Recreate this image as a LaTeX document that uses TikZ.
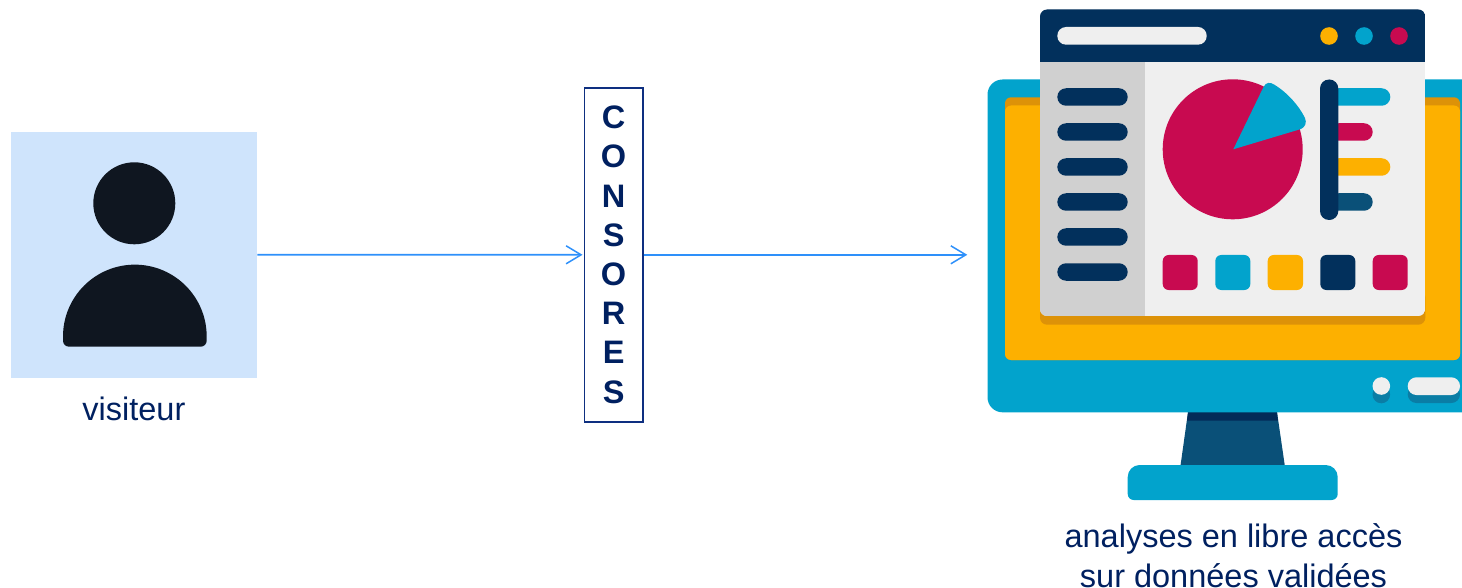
\documentclass[tikz,border=0pt]{standalone}
\usepackage{fontspec}
\setmainfont{Liberation Sans}
\usetikzlibrary{arrows.meta}
\definecolor{navy}{HTML}{02305C}
\definecolor{tealc}{HTML}{02A3CC}
\definecolor{amber}{HTML}{FDB000}
\definecolor{crimson}{HTML}{C80A50}
\definecolor{lightg}{HTML}{EFEFEF}
\definecolor{sideg}{HTML}{D0D0D0}
\definecolor{darkamber}{HTML}{DD9208}
\definecolor{deepblue}{HTML}{0A5078}
\definecolor{darkband}{HTML}{032A58}
\definecolor{tealshadow}{HTML}{0A7DA5}
\definecolor{textblue}{HTML}{002060}
\definecolor{boxblue}{HTML}{0E2F80}
\definecolor{arrowblue}{HTML}{2E90FA}
\definecolor{paleblue}{HTML}{CFE4FC}
\definecolor{inkblack}{HTML}{0F1620}
\newcommand{\pillshape}[5]{\fill[#1,rounded corners=8.7pt] (#2,#3) rectangle (#4,#5);}
\newcommand{\squareshape}[3]{\fill[#1,rounded corners=6pt] (#2,255) rectangle (#3,290);}
\tikzset{
  x=1pt,y=-1pt,
  caption/.style={text=textblue,font=\fontsize{32.5}{38.3}\selectfont,inner sep=0pt,outer sep=0pt,align=center},
  visitorbox/.style={fill=paleblue,minimum width=246.3pt,minimum height=245.7pt,inner sep=0pt,outer sep=0pt},
  acronymbox/.style={draw=boxblue,line width=1.7pt,fill=white,minimum width=58.4pt,minimum height=334pt,inner sep=0pt,outer sep=0.85pt,text=textblue,align=center,font=\fontsize{32.5}{39.2}\selectfont\bfseries},
  flow/.style={draw=arrowblue,line width=1.7pt,-{Straight Barb[length=15pt,width=18pt,line width=1.5pt]}}
}
\begin{document}
\begin{tikzpicture}
\useasboundingbox (0,0) rectangle (1462,588);
% visitor
\node[visitorbox] (visitor) at (134.15,254.85) {};
\fill[inkblack] (134.3,203.3) circle[radius=41pt];
\fill[inkblack] (63,340.7) -- (63,336.5) arc (180:0:71.85pt) -- (206.7,340.7) arc (0:-90:6pt) -- (69,346.7) arc (270:180:6pt) -- cycle;
\node[caption,anchor=base] (visitorlabel) at (133.9,420.3) {visiteur};
% consores
\node[acronymbox] (consores) at (613.6,254.8) {C\\O\\N\\S\\O\\R\\E\\S};
% monitor
\fill[deepblue] (1188.3,410) -- (1276.7,410) -- (1285,467) -- (1180.3,467) -- cycle;
\fill[darkband] (1188.3,410) -- (1276.7,410) -- (1277.9,420.7) -- (1187,420.7) -- cycle;
\fill[tealc] (1127.7,494) -- (1127.7,477) arc (180:90:12pt) -- (1325.7,465) arc (90:0:12pt) -- (1337.7,494) arc (0:-90:6pt) -- (1133.7,500) arc (270:180:6pt) -- cycle;
\fill[tealc] (1462,79.5) [rounded corners=15pt] -- (987.5,79.5) -- (987.5,412.3) [sharp corners] -- (1462,412.3) -- cycle;
\fill[darkamber,rounded corners=6pt] (1005,97.3) rectangle (1460,360);
\fill[amber,rounded corners=6pt] (1005,105.5) rectangle (1460,360);
\fill[tealshadow] (1381.3,394.5) circle[radius=8.8pt];
\pillshape{tealshadow}{1407.7}{385.5}{1460}{403}
\fill[lightg] (1381.3,386) circle[radius=8.8pt];
\pillshape{lightg}{1407.7}{377.3}{1460}{395}
% window
\fill[darkamber,rounded corners=7pt] (1040,290) rectangle (1425.3,324.7);
\begin{scope}
\clip[rounded corners=7pt] (1040,9.5) rectangle (1425.3,316);
\fill[lightg] (1040,9.5) rectangle (1425.3,316);
\fill[sideg] (1040,62.3) rectangle (1145,316);
\fill[navy] (1040,9.5) rectangle (1425.3,62.3);
\end{scope}
\pillshape{lightg}{1057.3}{27}{1206.7}{44.7}
\fill[amber] (1329,36) circle[radius=8.8pt];
\fill[tealc] (1364,36) circle[radius=8.8pt];
\fill[crimson] (1399,36) circle[radius=8.8pt];
\foreach \rowy in {97,132,167,202,237,272}{
  \pillshape{navy}{1057.3}{\rowy-8.75}{1127.7}{\rowy+8.75}
}
\fill[crimson] (1232.7,149.3) circle[radius=70pt];
\fill[tealc] (1233.3,149.3) -- (1263.5,87) .. controls (1266,82) and (1270,82) .. (1274,84.5) .. controls (1288,93) and (1299,106) .. (1305,118) .. controls (1307,123) and (1305,127) .. (1301,129) -- cycle;
\pillshape{tealc}{1330}{88.25}{1390.3}{105.75}
\pillshape{crimson}{1330}{123.25}{1372.7}{140.75}
\pillshape{amber}{1330}{158.25}{1390.3}{175.75}
\pillshape{deepblue}{1330}{193.25}{1372.7}{210.75}
\fill[navy,rounded corners=9pt] (1320,79.5) rectangle (1338.3,220);
\squareshape{crimson}{1162.7}{1197.7}
\squareshape{tealc}{1215.3}{1250.3}
\squareshape{amber}{1267.7}{1303}
\squareshape{navy}{1320.3}{1355.3}
\squareshape{crimson}{1372.7}{1407.7}
\node[caption,anchor=center] (monitorlabel) at (1233.5,556) {analyses en libre accès\\[1.5pt]sur données validées};
% connectors
\coordinate (monitorentry) at (967.3,254.8);
\draw[flow,shorten >=1pt] (visitor.east) -- (consores.west);
\draw[flow] (consores.east) -- (monitorentry);
\end{tikzpicture}
\end{document}
